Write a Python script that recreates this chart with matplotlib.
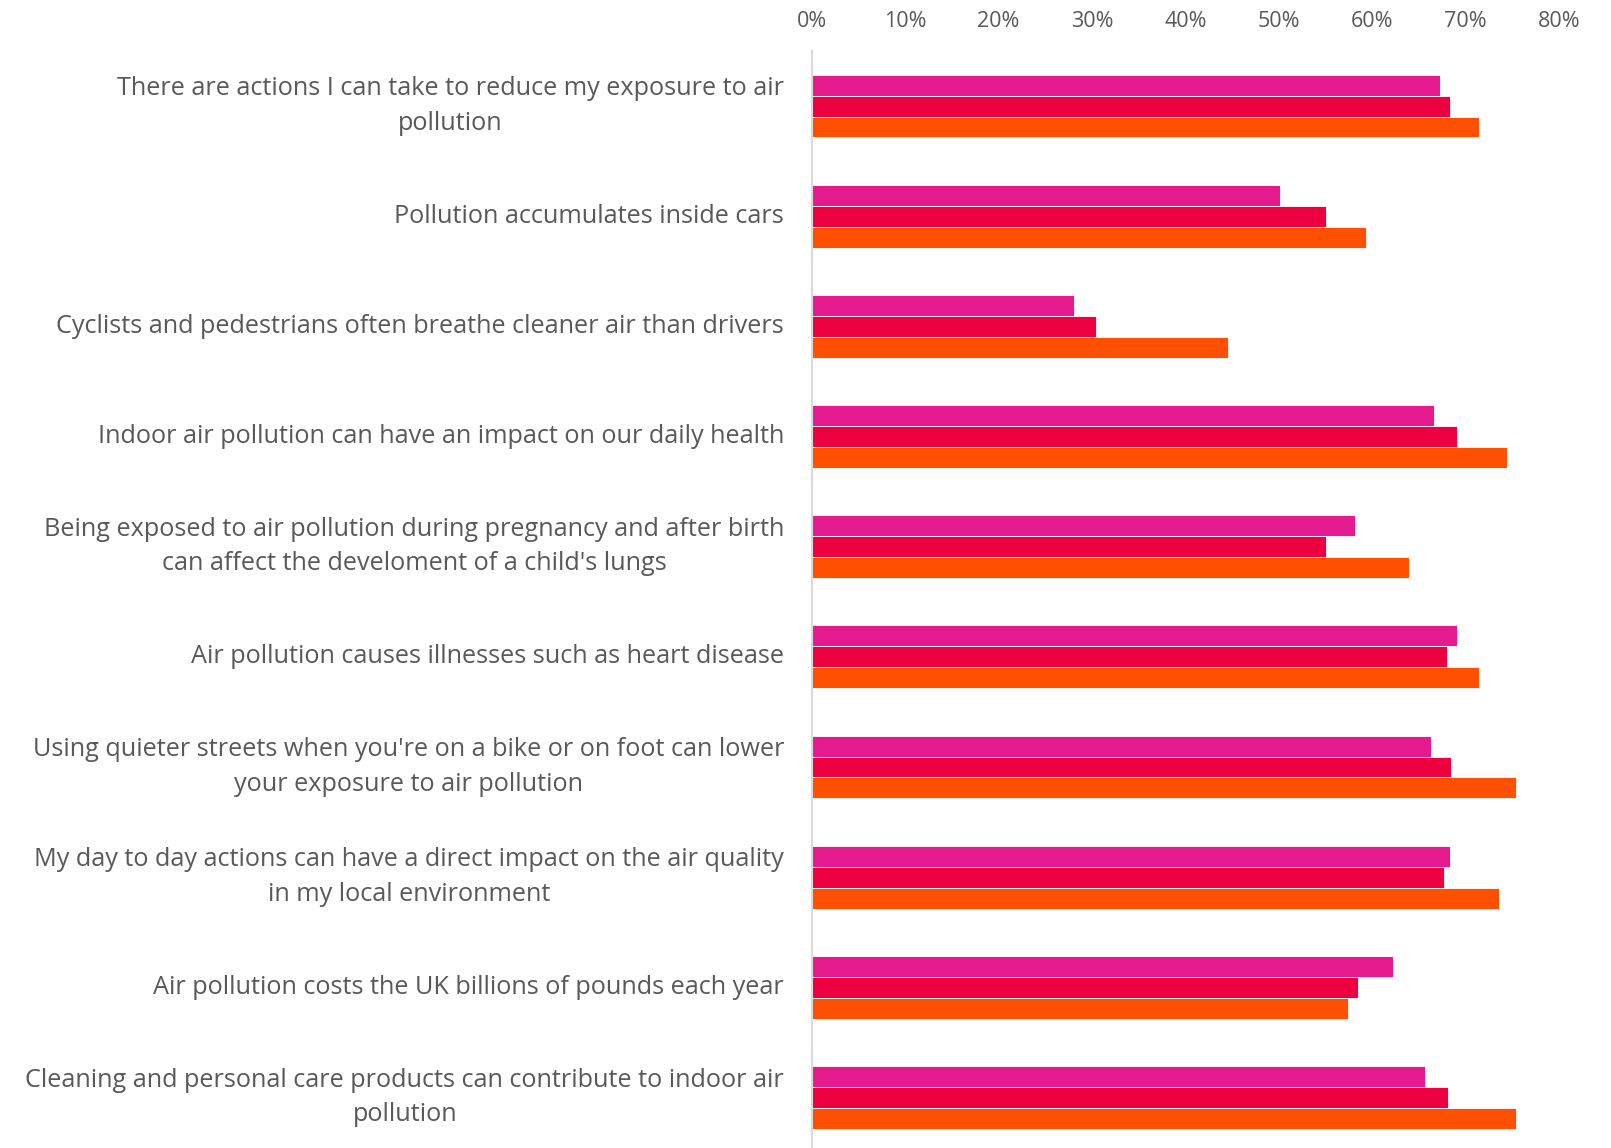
import numpy as np
import matplotlib.pyplot as plt

categories = [
    "There are actions I can take to reduce my exposure to air\npollution",
    "Pollution accumulates inside cars",
    "Cyclists and pedestrians often breathe cleaner air than drivers",
    "Indoor air pollution can have an impact on our daily health",
    "Being exposed to air pollution during pregnancy and after birth\ncan affect the develoment of a child's lungs",
    "Air pollution causes illnesses such as heart disease",
    "Using quieter streets when you're on a bike or on foot can lower\nyour exposure to air pollution",
    "My day to day actions can have a direct impact on the air quality\nin my local environment",
    "Air pollution costs the UK billions of pounds each year",
    "Cleaning and personal care products can contribute to indoor air\npollution",
]

# three series, top to bottom in each group
series_a = [67.3, 50.1, 28.1, 66.6, 58.2, 69.1, 66.3, 68.3, 62.2, 65.7]
series_b = [68.3, 55.1, 30.4, 69.1, 55.1, 68.0, 68.5, 67.7, 58.5, 68.1]
series_c = [71.4, 59.3, 44.6, 74.5, 64.0, 71.5, 75.4, 73.6, 57.4, 75.4]
colors = ["#E61A8F", "#EC0040", "#FF4F00"]

tick_vals = np.arange(0, 81, 10)
tick_labels = [f"{v}%" for v in tick_vals]

plt.rcParams['font.family'] = ['Open Sans', 'DejaVu Sans']

fig = plt.figure(figsize=(16.11, 11.48), dpi=100)
ax = fig.add_axes([0.504, -0.004, 0.4636, 0.9596])

y = np.arange(len(categories))
h = 0.19
for k, vals in enumerate([series_a, series_b, series_c]):
    ax.barh(y + (k - 1) * h, vals, height=h, color=colors[k],
            edgecolor="white", linewidth=0.6)

ax.set_xlim(0, 80)
ax.set_ylim(len(categories) - 0.5, -0.5)
ax.xaxis.tick_top()
ax.set_xticks(tick_vals)
ax.set_xticklabels(tick_labels)
ax.set_yticks(y)
ax.set_yticklabels(categories, multialignment="center", linespacing=1.5,
                   va="center")
ax.tick_params(axis="both", length=0, colors="#595959")
ax.tick_params(axis="x", pad=14, labelsize=15.5)
ax.tick_params(axis="y", pad=20, labelsize=18.2)
for s in ["top", "right", "bottom"]:
    ax.spines[s].set_visible(False)
ax.spines["left"].set_color("#D9D9D9")
ax.spines["left"].set_linewidth(1.5)

fig.savefig("out.png", dpi=100)
